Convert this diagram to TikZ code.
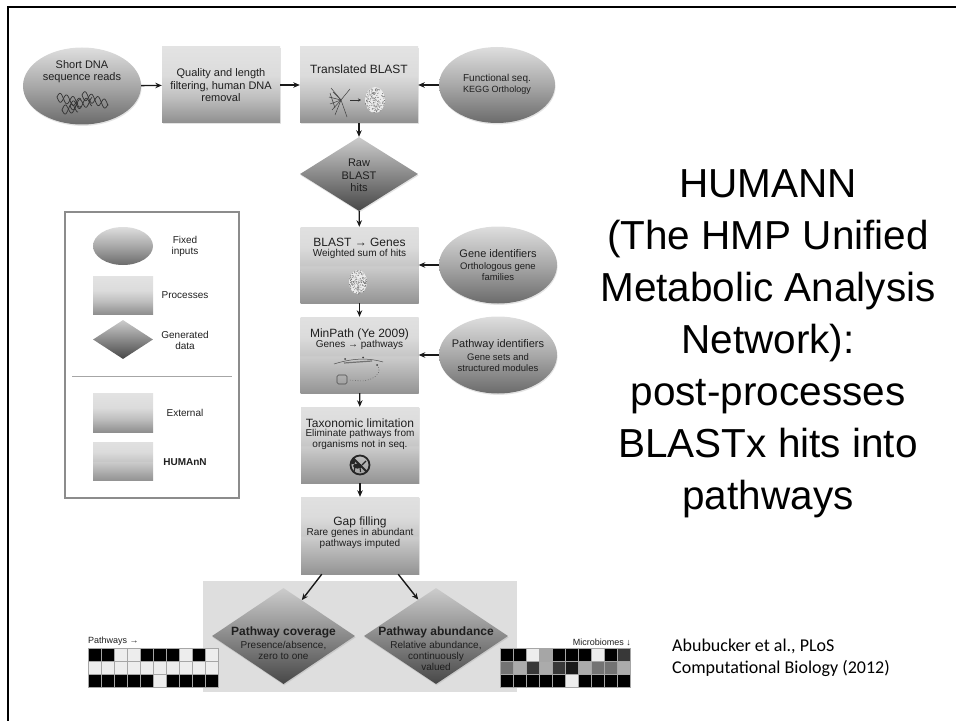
\documentclass[tikz,border=0pt]{standalone}
\usepackage{fontspec}
\setmainfont{Liberation Sans}
\newfontfamily\citefont{Carlito}
\usetikzlibrary{shapes.geometric,arrows.meta,shadows,calc}

% vertical shadings (path box maps to 25bp..75bp)
\pgfdeclareverticalshading{procshade}{100bp}{color(0bp)=(black!44); color(25bp)=(black!44); color(42bp)=(black!25); color(56bp)=(black!14); color(75bp)=(black!11); color(100bp)=(black!11)}
\pgfdeclareverticalshading{humshade}{100bp}{color(0bp)=(black!42); color(25bp)=(black!42); color(49bp)=(black!20); color(50bp)=(black!22); color(62bp)=(black!14); color(75bp)=(black!12); color(100bp)=(black!12)}
\pgfdeclareverticalshading{inshade}{100bp}{color(0bp)=(black!58); color(25bp)=(black!58); color(50bp)=(black!34); color(75bp)=(black!13); color(100bp)=(black!13)}
\pgfdeclareverticalshading{datashade}{100bp}{color(0bp)=(black!72); color(25bp)=(black!72); color(50bp)=(black!46); color(75bp)=(black!20); color(100bp)=(black!20)}

\tikzset{
  softshadow/.style={drop shadow={opacity=0.22, shadow xshift=0.6bp, shadow yshift=-1.4bp}},
  procbox/.style={rectangle, inner sep=0, minimum width=118bp, minimum height=76bp, shading=procshade, softshadow},
  humbox/.style={rectangle, inner sep=0, minimum width=118bp, minimum height=76bp, shading=humshade, softshadow},
  inputell/.style={ellipse, inner sep=0, minimum width=118bp, minimum height=77bp, shading=inshade, softshadow},
  datadia/.style={diamond, inner sep=0, shading=datashade, softshadow},
  lbl/.style={inner sep=0, align=center, text=black!88},
  big/.style={font=\fontsize{12bp}{13.5bp}\selectfont},
  mid/.style={font=\fontsize{11bp}{12.5bp}\selectfont},
  small/.style={font=\fontsize{10bp}{11bp}\selectfont},
  tiny/.style={font=\fontsize{9.5bp}{11bp}\selectfont},
  flow/.style={-{Stealth[length=6.5bp,width=5.5bp]}, line width=1.4bp, black!90},
  helix/.style={black!80, line width=0.7bp},
  speck/.style={black!55},
}

\newcommand{\blob}[4]{% cx cy rx ry
  \fill[black!8] (#1,#2) ellipse ({#3} and {#4});
  \foreach \k in {1,...,170}{
    \pgfmathsetmacro{\rr}{sqrt(rnd)}
    \pgfmathsetmacro{\aa}{360*rnd}
    \fill[speck] ({#1+#3*\rr*cos(\aa)},{#2+#4*\rr*sin(\aa)}) circle (0.45bp);
  }
}

% one short double helix: start x, start y, length, slope
\newcommand{\dnahelix}[4]{%
  \begin{scope}[shift={(#1,#2)}]
    \draw[helix] plot[domain=0:#3, samples=36, smooth] (\x, {4.5*sin(\x*28)+#4*\x});
    \draw[helix] plot[domain=0:#3, samples=36, smooth] (\x, {-4.5*sin(\x*28)+#4*\x});
  \end{scope}}

\begin{document}
\begin{tikzpicture}[x=1bp,y=-1bp]
\useasboundingbox (0,0) rectangle (956,721);
\pgfmathsetseed{11}

% slide frame
\draw[line width=2bp] (7.5,721) -- (7.5,7.5) -- (956,7.5);

% ---------- legend ----------
\node[draw=black!45, line width=1.2bp, rectangle, minimum width=174bp, minimum height=286bp, inner sep=0] (legend) at (152,355) {};
\node[ellipse, inner sep=0, minimum width=60bp, minimum height=38bp, shading=inshade] (legIn) at (123,246) {};
\node[lbl, small] (legInT) at (185,246) {Fixed\\inputs};
\node[rectangle, inner sep=0, minimum width=60bp, minimum height=38bp, shading=procshade] (legProc) at (123,295) {};
\node[lbl, small] (legProcT) at (185,295) {Processes};
\node[diamond, inner sep=0, minimum width=60bp, minimum height=39bp, shading=datashade] (legData) at (123,339.5) {};
\node[lbl, small] (legDataT) at (185,340.5) {Generated\\data};
\coordinate (sepL) at (72,376);
\coordinate (sepR) at (232,376);
\draw[black!35, line width=1bp] (sepL) -- (sepR);
\node[rectangle, inner sep=0, minimum width=60bp, minimum height=39bp, shading=procshade] (legExt) at (123,412.5) {};
\node[lbl, small] (legExtT) at (185,413) {External};
\node[rectangle, inner sep=0, minimum width=60bp, minimum height=38bp, shading=humshade] (legHum) at (123,461) {};
\node[lbl, small, font=\fontsize{10bp}{11bp}\selectfont\bfseries] (legHumT) at (185,462) {HUMAnN};

% ---------- top row ----------
\node[inputell] (dna) at (82,86) {};
\node[lbl, mid] (dnaT) at (82,71.5) {Short DNA\\sequence reads};
\dnahelix{57}{97}{24}{0.25}
\dnahelix{70}{106}{22}{-0.2}
\dnahelix{82}{95}{26}{0.38}
\dnahelix{62}{110}{16}{-0.15}

\node[procbox] (qual) at (221,85) {};
\node[lbl, mid] (qualT) at (221,85.5) {Quality and length\\filtering, human DNA\\removal};

\node[procbox] (tblast) at (359,85) {};
\node[lbl, big] (tblastT) at (359,69) {Translated BLAST};
% alignment fan and protein
\coordinate (fanC) at (341,100);
\foreach \p in {(331,88),(333,92),(329,97),(330,104),(332,110),(335,115),(347,117),(350,89)}
  \draw[black!75, line width=0.5bp] (fanC) -- \p;
\draw[black!75, line width=0.5bp] (330,93) -- (335,108);
\draw[black!80, line width=0.8bp, -{Stealth[length=3bp,width=3bp]}] (350,100) -- (361,100);
\blob{375}{100}{10}{13}

\node[inputell, minimum width=116bp, minimum height=76bp] (funcseq) at (497,85) {};
\node[lbl, small] (funcseqT) at (497,79) {Functional seq.};
\node[lbl, font=\fontsize{9bp}{10bp}\selectfont, text=black!88] (funcseqT2) at (497,90) {KEGG Orthology};

\draw[flow] (dna) -- (qual);
\draw[flow] (qual) -- (tblast);
\draw[flow] (funcseq) -- (tblast);

% ---------- raw hits ----------
\node[datadia, minimum width=118bp, minimum height=74bp] (raw) at (359,174) {};
\node[lbl, mid] (rawT) at (359,175.5) {Raw\\BLAST\\hits};
\draw[flow] (tblast) -- (raw);

% ---------- genes ----------
\node[humbox] (genes) at (359.5,265) {};
\node[lbl, big] (genesT) at (359.5,242) {BLAST → Genes};
\node[lbl, small] (genesT2) at (359.5,254) {Weighted sum of hits};
\blob{358}{282}{9}{12}
\node[inputell] (geneid) at (498,265) {};
\node[lbl, mid] (geneidT) at (498,254) {Gene identifiers};
\node[lbl, tiny] (geneidT2) at (498,271.5) {Orthologous gene\\families};
\draw[flow] (raw) -- (genes);
\draw[flow] (geneid) -- (genes);

% ---------- minpath ----------
\node[humbox] (minpath) at (359.5,355) {};
\node[lbl, big] (minpathT) at (359.5,334) {MinPath (Ye 2009)};
\node[lbl, small] (minpathT2) at (359.5,345) {Genes → pathways};
\draw[black!70, line width=0.5bp] (334,364) .. controls (350,359) and (366,357) .. (383,362);
\draw[black!55, line width=1.2bp] (344,363) -- (372,361);
\fill[black!75] (345,359) circle (1bp) (363,357.5) circle (1bp) (377,365) circle (1bp);
\draw[black!65, line width=0.6bp, dotted] (377,365) .. controls (383,372) and (375,380) .. (362,381) -- (348,380);
\draw[black!70, line width=0.6bp, rounded corners=1.5bp] (337,375) rectangle (347,384);
\node[inputell] (pathid) at (498,355) {};
\node[lbl, mid] (pathidT) at (498,345) {Pathway identifiers};
\node[lbl, tiny] (pathidT2) at (498,362.5) {Gene sets and\\structured modules};
\draw[flow] (genes) -- (minpath);
\draw[flow] (pathid) -- (minpath);

% ---------- taxonomic limitation ----------
\node[humbox] (taxo) at (360,445) {};
\node[lbl, big] (taxoT) at (360,423) {Taxonomic limitation};
\node[lbl, small] (taxoT2) at (360,439.5) {Eliminate pathways from\\organisms not in seq.};
\fill[black!85] (357.5,466) ellipse (4.5bp and 2.6bp);
\fill[black!85] (353,462) circle (2.3bp);
\draw[black!85, line width=1.1bp] (355,467) -- (354,472) (360,467) -- (360.5,472) (362,465) -- (366,461);
\draw[black!85, line width=1.8bp] (360,465) circle (9.5bp);
\draw[black!85, line width=1.8bp] (353.3,458.3) -- (366.7,471.7);
\draw[flow] (minpath) -- (taxo);

% ---------- gap filling ----------
\node[humbox, minimum height=77bp] (gap) at (360,535.5) {};
\node[lbl, big] (gapT) at (360,522) {Gap filling};
\node[lbl, small] (gapT2) at (360,538.5) {Rare genes in abundant\\pathways imputed};
\draw[flow] (taxo) -- (gap);

% ---------- outputs ----------
\node[rectangle, fill=black!13, inner sep=0, minimum width=314bp, minimum height=111bp] (outbg) at (360,636.5) {};
\node[datadia, minimum width=143bp, minimum height=96bp] (cov) at (283.5,636) {};
\node[lbl, font=\fontsize{12bp}{13.5bp}\selectfont\bfseries] (covT) at (283.5,632) {Pathway coverage};
\node[lbl, small] (covT2) at (283.5,650.5) {Presence/absence,\\zero to one};
\node[datadia, minimum width=144bp, minimum height=96bp] (abund) at (436,636) {};
\node[lbl, font=\fontsize{12bp}{13.5bp}\selectfont\bfseries] (abundT) at (436,632) {Pathway abundance};
\node[lbl, small] (abundT2) at (436,655.5) {Relative abundance,\\continuously\\valued};
\draw[flow] ($(gap.south west)+(21,0)$) -- (cov.63);
\draw[flow] ($(gap.south east)+(-21,0)$) -- (abund.116);

% ---------- matrices ----------
\node[lbl, font=\fontsize{9bp}{10bp}\selectfont, anchor=south west] (pwT) at (88,646) {Pathways →};
\foreach \row [count=\r from 0] in {{100,100,7,7,100,100,100,7,100,7},{7,7,7,7,7,7,7,7,7,7},{100,100,100,100,100,7,100,100,100,100}}
  \foreach \v [count=\c from 0] in \row
    \filldraw[fill=black!\v, draw=black!35, line width=0.4bp] ({88+13*\c},{648+13*\r}) rectangle ++(13,13);

\node[lbl, font=\fontsize{9bp}{10bp}\selectfont, anchor=south east] (mbT) at (631,646) {Microbiomes ↓};
\foreach \row [count=\r from 0] in {{100,100,7,35,100,100,100,7,100,78},{55,33,78,33,78,90,33,55,55,33},{100,100,100,100,100,7,100,100,100,100}}
  \foreach \v [count=\c from 0] in \row
    \filldraw[fill=black!\v, draw=black!35, line width=0.4bp] ({500+13*\c},{648+13*\r}) rectangle ++(13,13);

% ---------- title and citation ----------
\node[inner sep=0, align=center, font=\fontsize{40.5bp}{52bp}\selectfont] (title) at (768,343.5)
  {HUMANN\\(The HMP Unified\\Metabolic Analysis\\Network):\\post-processes\\BLASTx hits into\\pathways};
\node[inner sep=0, align=left, anchor=west, font=\citefont\fontsize{18bp}{22bp}\selectfont] (cite) at (672,658)
  {Abubucker et al., PLoS\\Computational Biology (2012)};
\end{tikzpicture}
\end{document}
